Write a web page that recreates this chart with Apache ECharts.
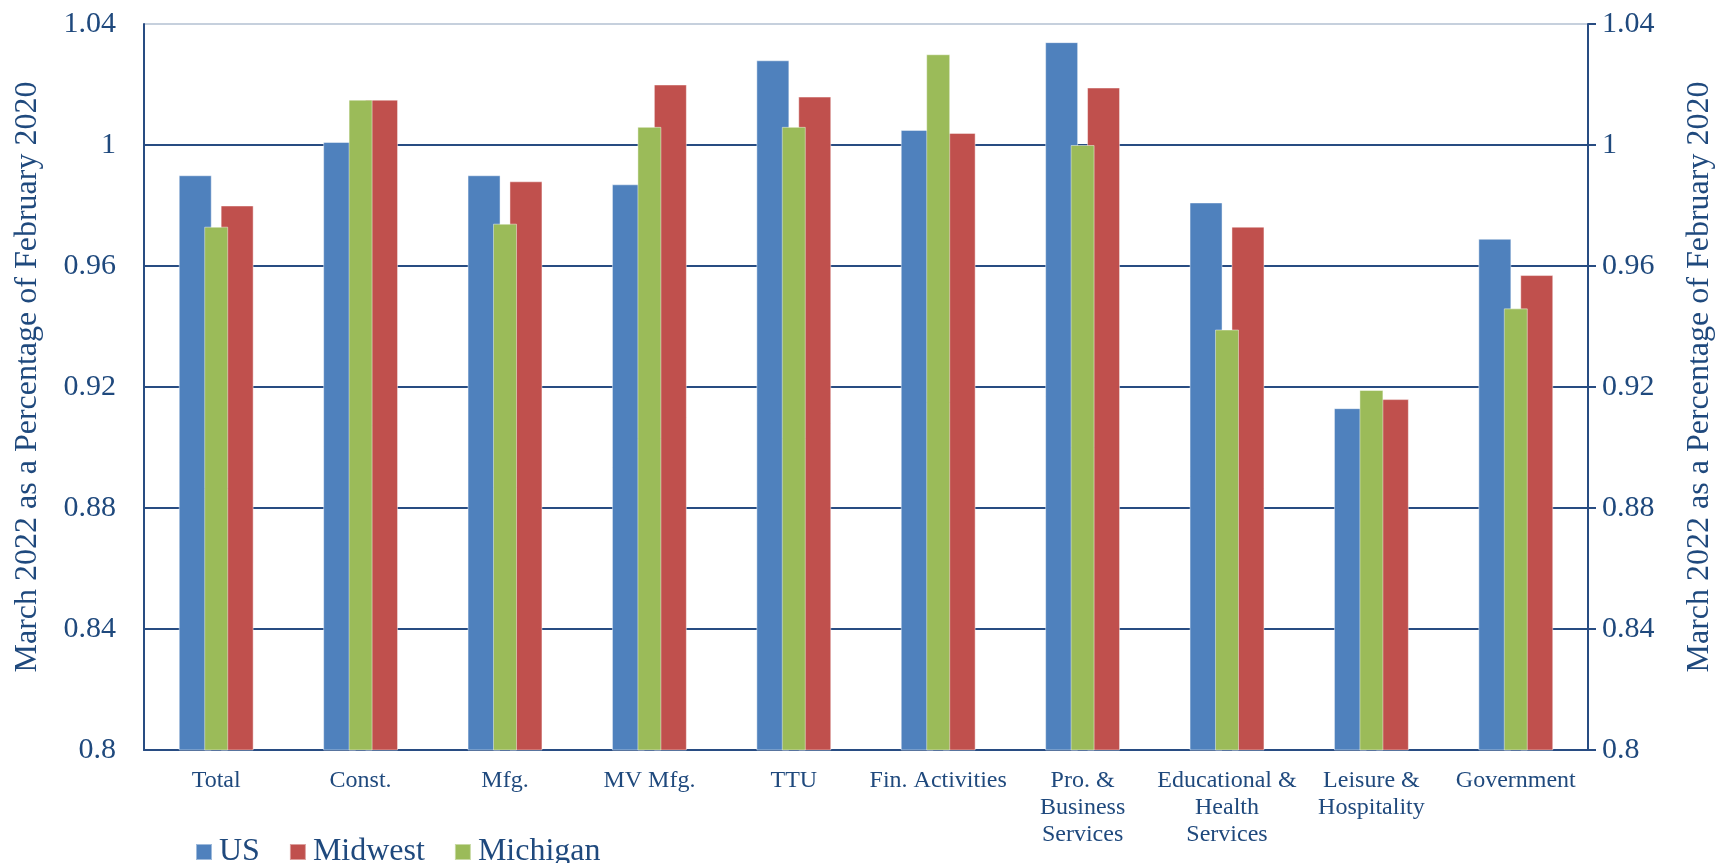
<!DOCTYPE html>
<html>
    <head>
        <meta charset="UTF-8">
        <title></title>
        <script src="https://cdn.jsdelivr.net/npm/echarts@6/dist/echarts.min.js"></script>
        <style>
            html, body { margin: 0; padding: 0; background: #fff; }
            #main { width: 1724px; height: 863px; }
        </style>
    </head>
    <body>
        <div id="main"></div>
        <script>
            // categories and values
            var categories = ['Total', 'Const.', 'Mfg.', 'MV Mfg.', 'TTU', 'Fin. Activities',
                'Pro. &\nBusiness\nServices', 'Educational &\nHealth\nServices',
                'Leisure &\nHospitality', 'Government'];
            var us       = [0.990, 1.001, 0.990, 0.987, 1.028, 1.005, 1.034, 0.981, 0.913, 0.969];
            var midwest  = [0.980, 1.015, 0.988, 1.020, 1.016, 1.004, 1.019, 0.973, 0.916, 0.957];
            var michigan = [0.973, 1.015, 0.974, 1.006, 1.006, 1.030, 1.000, 0.939, 0.919, 0.946];
            var legendNames = ['US', 'Midwest', 'Michigan'];
            var axisName = 'March 2022 as a Percentage of February 2020';

            var font = "'Liberation Serif', 'Times New Roman', serif";
            var navy = '#1F497D';
            var lineCol = '#284C82';

            var chart = echarts.init(document.getElementById('main'));
            chart.setOption({
                animation: false,
                textStyle: { fontFamily: font, color: navy },
                grid: { left: 144, right: 131, top: 24, bottom: 113 },
                legend: {
                    data: legendNames,
                    left: 190,
                    top: 831,
                    icon: 'rect',
                    itemWidth: 16,
                    itemHeight: 16,
                    itemGap: 29,
                    textStyle: { fontFamily: font, fontSize: 32, color: navy, padding: [0, 0, 0, 2] }
                },
                xAxis: [{
                    type: 'category',
                    data: categories,
                    axisLine: { lineStyle: { color: lineCol, width: 2 } },
                    axisTick: { show: false },
                    axisLabel: {
                        interval: 0,
                        fontFamily: font,
                        fontSize: 24,
                        lineHeight: 27,
                        color: navy,
                        margin: 17
                    }
                }, {
                    // Michigan sits on the secondary axes, centred over each group
                    type: 'category',
                    data: categories,
                    show: false
                }],
                yAxis: [{
                    type: 'value',
                    min: 0.8,
                    max: 1.04,
                    interval: 0.04,
                    name: axisName,
                    nameLocation: 'middle',
                    nameRotate: 90,
                    nameGap: 100,
                    nameTextStyle: { fontFamily: font, fontSize: 32, color: navy, padding: [0, 0, 0, 20] },
                    axisLine: { show: true, lineStyle: { color: lineCol, width: 2 } },
                    axisTick: { show: false },
                    axisLabel: { fontFamily: font, fontSize: 30, color: navy, margin: 28 },
                    splitLine: {
                        lineStyle: {
                            color: [lineCol, lineCol, lineCol, lineCol, lineCol, lineCol, '#C6D0DD'],
                            width: 2
                        }
                    }
                }, {
                    type: 'value',
                    position: 'right',
                    min: 0.8,
                    max: 1.04,
                    interval: 0.04,
                    name: axisName,
                    nameLocation: 'middle',
                    nameRotate: 90,
                    nameGap: 96,
                    nameTextStyle: { fontFamily: font, fontSize: 32, color: navy, padding: [0, 0, 0, 20] },
                    axisLine: { show: true, lineStyle: { color: lineCol, width: 2 } },
                    axisTick: { show: true, length: 8, lineStyle: { color: lineCol, width: 2 } },
                    axisLabel: { fontFamily: font, fontSize: 30, color: navy, margin: 14 },
                    splitLine: { show: false }
                }],
                series: [{
                    name: 'US',
                    type: 'bar',
                    data: us,
                    barWidth: 33,
                    barGap: '27%',
                    itemStyle: { color: '#4F81BD', borderColor: 'rgba(255,255,255,0.45)', borderWidth: 1 }
                }, {
                    name: 'Midwest',
                    type: 'bar',
                    data: midwest,
                    barWidth: 33,
                    barGap: '27%',
                    itemStyle: { color: '#C0504D', borderColor: 'rgba(255,255,255,0.45)', borderWidth: 1 }
                }, {
                    name: 'Michigan',
                    type: 'bar',
                    xAxisIndex: 1,
                    yAxisIndex: 1,
                    data: michigan,
                    barWidth: 24,
                    z: 3,
                    itemStyle: { color: '#9BBB59', borderColor: 'rgba(255,255,255,0.45)', borderWidth: 1 }
                }]
            });
        </script>
    </body>
</html>
